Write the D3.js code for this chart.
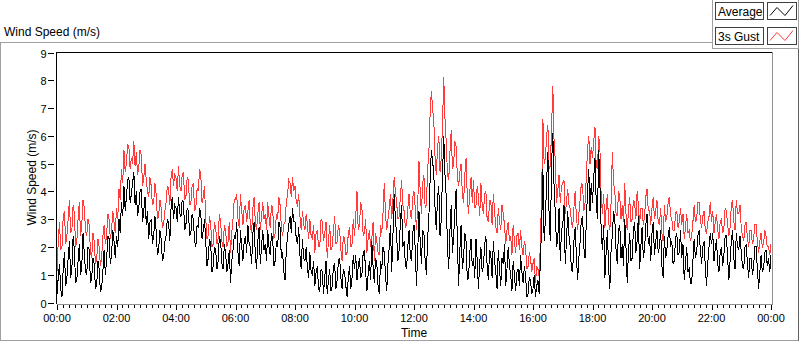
<!DOCTYPE html>
<html><head><meta charset="utf-8">
<script src="https://cdn.jsdelivr.net/npm/d3@7"></script>
<style>body{margin:0;background:#fff} svg{display:block} text{font-family:"Liberation Sans",Arial,sans-serif}</style>
</head><body>
<svg id="c" width="800" height="342"></svg>
<script>
// 2.5-minute samples over one day (m/s), one row per hour
const average = [
0.3,0.9,1.4,0.5,0.2,1.2,1.8,0.6,0.9,1.6,2.2,0.9,1.2,2.4,1.9,0.7,0.8,1.5,2.1,1.0,1.3,2.5,1.8,1.1,
1.0,2.0,1.9,0.7,0.9,1.6,1.4,0.5,0.6,1.5,1.2,0.4,0.5,1.1,1.9,1.0,1.5,2.4,2.3,1.4,1.7,2.6,2.2,1.6,
2.4,2.0,3.0,2.5,3.6,3.1,4.2,3.3,3.8,4.4,4.5,3.6,3.9,4.3,4.7,3.5,4.0,3.1,3.4,4.0,4.1,2.9,3.3,3.8,
2.8,3.3,2.3,2.9,3.0,2.1,2.4,3.1,2.6,1.7,1.9,2.6,2.3,1.5,1.6,2.2,2.4,3.0,2.9,2.2,3.4,3.8,3.0,3.5,
3.4,2.9,3.8,3.2,3.1,3.7,3.6,2.6,2.8,3.4,3.3,2.4,2.5,3.2,3.0,2.2,2.0,2.8,2.7,3.4,3.2,2.3,2.6,3.0,
2.2,1.3,1.6,2.3,2.1,1.1,1.3,2.0,1.9,1.2,1.5,2.4,2.2,1.4,1.2,2.1,1.8,1.1,1.4,1.9,0.7,1.5,1.9,2.4,
2.3,2.9,1.8,1.3,2.6,2.0,1.5,2.2,2.4,1.8,2.8,2.1,2.0,1.4,2.5,2.9,1.7,1.2,2.2,2.7,1.4,2.0,2.6,1.9,
2.1,1.5,2.6,2.0,1.7,2.5,2.3,1.3,1.5,2.2,2.0,2.9,2.7,1.6,1.8,1.1,0.8,1.9,2.4,2.8,3.1,2.5,3.4,2.9,
2.9,2.3,2.1,2.7,1.7,1.2,2.3,1.6,1.5,2.0,1.2,0.9,1.8,1.1,1.0,1.5,0.6,1.1,1.3,0.5,0.4,1.2,1.1,0.3,
0.9,1.5,0.3,0.8,1.2,0.4,0.6,1.3,1.4,0.5,0.8,1.5,1.6,0.9,0.5,1.2,1.1,0.6,0.2,0.9,1.3,0.5,0.9,1.7,
1.2,1.7,0.8,1.3,1.6,0.9,1.0,1.8,1.9,1.1,0.4,1.0,1.5,0.8,2.2,1.3,0.7,1.6,1.4,0.6,0.3,1.5,1.2,2.0,
1.8,1.0,0.4,1.4,2.0,2.8,1.1,2.4,3.9,3.0,2.4,1.5,1.9,2.9,3.5,2.0,2.2,1.4,1.2,2.0,2.6,1.7,1.5,2.5,
2.8,1.9,0.6,1.8,3.3,2.2,1.4,2.6,2.5,1.5,1.0,2.3,3.1,4.4,5.5,5.1,4.6,3.4,2.6,3.8,4.2,2.4,3.0,4.6,
6.0,4.6,3.8,2.0,1.2,2.6,3.5,1.8,2.4,3.3,4.1,2.2,0.6,1.9,2.8,1.2,1.6,2.5,2.2,0.8,0.9,1.8,2.3,1.3,
1.6,0.9,2.3,1.5,0.5,1.4,2.0,1.1,1.3,2.1,2.4,1.3,0.8,1.9,1.7,0.9,2.2,1.5,1.1,0.5,1.9,1.2,0.6,1.6,
1.4,2.1,0.6,1.2,2.0,1.3,1.0,0.4,1.5,1.0,0.4,1.1,1.2,0.6,1.7,1.1,0.7,1.3,1.0,0.2,0.3,0.9,0.8,0.3,
0.5,1.0,0.2,0.6,0.8,0.3,1.6,2.8,4.8,2.2,3.0,4.4,5.4,3.1,2.2,5.0,6.1,4.2,3.2,2.0,2.3,3.4,1.5,2.6,
2.8,3.5,1.4,2.2,3.3,2.4,2.0,1.2,1.1,2.2,2.7,1.7,0.8,1.6,2.2,3.0,3.1,2.0,1.6,2.9,4.0,4.8,3.3,4.3,
3.6,4.5,5.2,3.6,3.0,5.5,4.2,2.6,1.9,2.8,0.9,1.8,2.6,1.2,0.5,1.9,2.4,3.3,3.0,1.9,1.4,2.6,2.8,1.6,
2.1,1.3,3.0,2.0,0.7,1.8,2.5,1.5,1.6,2.6,2.9,1.8,2.2,3.1,1.2,2.0,2.7,1.6,1.9,2.8,3.2,2.1,2.4,1.5,
2.5,2.9,1.7,2.2,2.6,1.8,2.0,2.6,1.3,0.9,2.4,1.6,1.9,2.4,2.7,2.0,2.2,1.4,1.5,2.3,2.5,1.7,1.8,2.6,
1.6,2.1,0.8,1.4,2.0,1.1,1.2,0.7,0.7,1.5,2.3,1.6,1.8,2.4,2.6,1.9,1.4,2.0,2.2,1.3,0.6,1.4,2.0,2.5,
2.1,2.5,1.5,1.9,2.3,1.4,1.1,1.8,2.0,1.3,1.7,2.4,2.4,1.6,0.8,1.5,2.2,2.6,1.6,1.2,2.5,2.0,1.9,2.4,
1.8,1.3,1.2,2.0,2.1,1.4,0.9,1.6,1.6,1.0,1.3,2.0,2.0,1.2,0.5,1.1,1.7,1.1,1.2,1.8,1.9,1.3,1.6,1.1,
1.7];
const gust = [
1.1,2.2,2.9,1.9,2.0,3.1,3.3,2.1,2.4,3.0,3.7,2.5,2.6,3.5,3.2,2.0,2.2,3.0,3.6,2.4,2.8,3.7,3.4,2.6,
2.4,3.0,2.8,1.8,1.6,2.5,2.2,1.4,1.5,2.3,2.0,1.3,1.6,2.4,2.8,2.1,2.4,3.2,3.0,2.3,2.6,3.3,2.9,2.5,
3.4,3.0,4.1,3.7,4.8,4.3,5.5,4.7,5.0,5.7,5.6,4.8,5.2,5.0,5.8,4.9,5.4,4.6,4.9,5.5,5.3,4.2,4.5,5.0,
4.4,4.0,3.8,4.5,4.2,3.5,3.6,4.3,3.9,3.0,3.1,3.7,3.4,2.7,2.8,3.3,3.6,4.2,4.1,3.5,4.5,4.8,4.2,4.6,
4.5,4.0,4.9,4.2,4.0,4.6,4.7,3.7,3.8,4.5,4.4,3.5,3.6,4.2,4.3,3.3,3.4,4.1,4.0,4.8,4.6,3.6,3.8,4.2,
3.0,2.3,2.4,3.1,2.8,2.0,2.1,2.9,2.7,2.1,2.3,3.2,2.9,2.2,2.0,2.8,2.6,2.0,2.2,2.9,1.8,2.5,3.0,3.7,
3.7,3.9,3.0,2.7,3.9,3.3,2.8,3.4,3.5,2.9,3.3,3.7,2.7,2.5,3.4,3.8,2.9,2.6,3.2,3.6,2.6,3.1,3.6,3.0,
3.2,2.6,3.6,3.1,2.7,3.5,3.4,2.3,2.5,3.2,3.0,3.8,3.5,2.7,2.4,2.8,2.9,3.6,3.9,4.4,4.3,3.8,4.5,4.0,
4.2,3.6,3.5,3.9,3.1,2.6,3.3,2.8,2.6,3.2,2.8,2.3,3.0,2.4,2.3,2.8,1.8,2.5,2.6,2.0,2.0,3.0,2.9,2.2,
2.5,2.9,1.6,2.2,2.8,1.9,2.0,2.6,3.1,2.1,2.2,2.8,2.6,1.9,1.5,2.4,2.3,1.7,1.8,2.5,2.7,2.0,2.1,3.0,
2.4,3.1,4.0,2.6,2.8,3.6,3.4,2.4,2.5,3.0,1.8,2.3,2.6,2.0,2.3,2.9,1.5,2.5,2.2,1.8,1.7,2.8,2.5,3.2,
4.3,3.2,2.6,3.0,3.4,3.9,3.0,3.7,4.5,4.0,3.6,3.0,3.1,3.8,4.4,3.5,3.3,2.7,2.8,3.4,3.9,3.2,3.0,3.8,
4.0,3.4,2.6,3.5,5.1,4.0,3.2,4.3,4.6,3.4,3.5,4.8,5.4,6.8,7.6,7.0,6.5,5.2,4.6,5.6,6.0,4.7,5.2,6.4,
8.1,6.6,5.8,4.6,4.4,5.4,6.2,4.8,5.0,5.8,5.6,4.5,4.2,4.7,5.0,3.9,3.6,4.6,5.2,3.8,3.2,4.0,4.5,3.6,
4.4,3.4,3.5,4.2,3.8,3.1,4.3,3.5,3.2,3.9,4.0,3.0,2.9,3.7,3.6,2.8,3.9,3.3,2.7,2.5,3.4,2.9,2.6,3.5,
3.2,2.8,2.1,2.6,2.9,2.2,2.4,1.7,2.8,2.2,1.8,2.4,2.5,1.9,2.6,2.0,1.7,2.2,2.0,1.2,1.3,1.8,1.6,1.1,
1.4,1.6,0.7,1.3,1.2,0.9,2.2,4.0,6.6,5.0,5.2,6.0,6.4,4.8,4.9,6.3,7.8,5.8,5.1,3.6,4.0,4.6,3.6,4.2,
4.3,4.4,3.2,3.6,4.1,3.5,3.4,2.9,2.7,3.4,4.0,3.1,2.6,3.2,3.7,4.3,4.2,3.3,3.6,4.5,5.5,6.0,5.0,5.6,
5.2,5.8,6.3,4.9,4.8,6.0,5.5,3.8,3.2,3.9,2.7,3.4,3.9,2.9,2.6,3.6,5.4,4.3,4.0,3.2,3.1,4.0,3.8,3.0,
3.5,2.9,4.3,3.2,2.6,3.3,3.8,2.9,3.0,3.7,3.6,3.0,4.0,3.5,2.8,3.4,3.4,2.8,3.1,3.8,4.1,3.3,3.3,2.8,
3.4,3.8,3.0,3.3,3.7,2.9,2.8,3.4,2.5,2.2,3.5,2.9,3.1,3.6,3.8,3.1,3.0,2.6,2.6,3.2,3.3,2.7,2.9,3.4,
2.8,3.2,2.3,2.7,3.2,2.5,2.6,2.2,2.4,2.9,3.5,2.9,3.0,3.6,3.6,3.0,2.7,3.1,3.3,2.6,2.5,2.9,3.1,3.6,
2.9,3.3,2.5,2.9,3.2,2.6,2.3,2.9,3.0,2.5,2.7,3.4,3.3,2.8,2.4,2.7,3.5,3.7,2.9,2.6,3.7,3.2,3.2,3.5,
2.7,2.4,2.2,2.8,2.9,2.3,2.0,2.6,2.6,2.1,2.3,2.8,2.8,2.2,1.8,2.2,2.5,2.0,2.1,2.6,2.4,2.0,2.0,1.7,
2.1];
const sampleMinutes = 2.5;
const xTickLabels = ["00:00","02:00","04:00","06:00","08:00","10:00","12:00","14:00","16:00","18:00","20:00","22:00","00:00"];
const yTickValues = [0,1,2,3,4,5,6,7,8,9];
const seriesNames = ["Average","3s Gust"];
const seriesColors = ["#000000","#ff3b3b"];
const chartTitle = "Wind Speed (m/s)";
const yTitle = "Wind Speed (m/s)";
const xTitle = "Time";

const svg = d3.select("#c");
const L = 57, R = 771, T = 52.5, B = 302.5;
const x = d3.scaleLinear().domain([0, 1440]).range([L, R]);
const y = d3.scaleLinear().domain([0, 9]).range([B, T]);

// outer panel frame
const g0 = svg.append("g").attr("shape-rendering","crispEdges");
g0.append("line").attr("x1",0).attr("x2",712).attr("y1",42.5).attr("y2",42.5).attr("stroke","#a0a0a0");
g0.append("line").attr("x1",0.5).attr("x2",0.5).attr("y1",42).attr("y2",341).attr("stroke","#a0a0a0");
g0.append("line").attr("x1",0).attr("x2",799).attr("y1",340.5).attr("y2",340.5).attr("stroke","#a0a0a0");
g0.append("line").attr("x1",798.5).attr("x2",798.5).attr("y1",0).attr("y2",341).attr("stroke","#606060");

svg.append("text").attr("x",4).attr("y",36).attr("font-size",12).attr("fill","#000").text(chartTitle);

// legend
const lg = svg.append("g").attr("shape-rendering","crispEdges");
lg.append("rect").attr("x",712.5).attr("y",-1).attr("width",86).attr("height",49.5).attr("fill","#fff").attr("stroke","#a0a0a0");
seriesNames.forEach((n,i)=>{
  const oy = 2.5 + i*25;
  lg.append("rect").attr("x",715.5).attr("y",oy).attr("width",48).attr("height",17).attr("fill","#fff").attr("stroke","#404040");
  lg.append("text").attr("x",718).attr("y",oy+13).attr("font-size",12).attr("fill","#000").text(n);
  lg.append("rect").attr("x",767.5).attr("y",oy).attr("width",29).attr("height",17).attr("fill","#fff").attr("stroke","#404040");
  lg.append("polyline").attr("points",[[770,oy+13],[777,oy+5],[785,oy+13],[793,oy+3]].map(p=>p.join(",")).join(" "))
    .attr("fill","none").attr("stroke",seriesColors[i]).attr("stroke-width",1).attr("shape-rendering","auto");
});

// clip
svg.append("clipPath").attr("id","clip").append("rect").attr("x",L).attr("y",T-1).attr("width",R-L+1).attr("height",B-T+2);

// data lines
const line = d3.line().x((d,i)=>x(i*sampleMinutes)).y(d=>y(d));
const lines = svg.append("g").attr("clip-path","url(#clip)");
lines.append("path").datum(gust).attr("d",line).attr("fill","none").attr("stroke",seriesColors[1]).attr("stroke-width",1).attr("shape-rendering","crispEdges");
lines.append("path").datum(average).attr("d",line).attr("fill","none").attr("stroke",seriesColors[0]).attr("stroke-width",1).attr("shape-rendering","crispEdges");

// plot frame
const fr = svg.append("g").attr("shape-rendering","crispEdges");
fr.append("line").attr("x1",L-0.5).attr("x2",R+1.5).attr("y1",T-0.5).attr("y2",T-0.5).attr("stroke","#000");
fr.append("line").attr("x1",L-0.5).attr("x2",L-0.5).attr("y1",T-0.5).attr("y2",B+1.5).attr("stroke","#000");
fr.append("line").attr("x1",R+1.5).attr("x2",R+1.5).attr("y1",T-0.5).attr("y2",B+1.5).attr("stroke","#909090");
fr.append("line").attr("x1",L-0.5).attr("x2",R+1.5).attr("y1",B+1.5).attr("y2",B+1.5).attr("stroke","#909090");

// y axis
const ya = svg.append("g");
yTickValues.forEach(v=>{
  const yy = Math.round(y(v))+0.5;
  ya.append("line").attr("x1",48).attr("x2",54).attr("y1",yy).attr("y2",yy).attr("stroke","#000").attr("shape-rendering","crispEdges");
  ya.append("text").attr("x",46.5).attr("y",yy+4).attr("text-anchor","end").attr("font-size",11).attr("fill","#000").text(v);
});
svg.append("text").attr("transform",`translate(36,${(T+B)/2}) rotate(-90)`).attr("text-anchor","middle").attr("font-size",12).attr("fill","#000").text(yTitle);

// x axis
const xa = svg.append("g").attr("shape-rendering","crispEdges");
d3.range(0,1441,12).forEach(m=>{
  const xx = Math.round(x(m))+0.5;
  const major = m % 120 === 0;
  xa.append("line").attr("x1",xx).attr("x2",xx).attr("y1",B+2).attr("y2",B+(major?7:5)).attr("stroke","#000");
});
xTickLabels.forEach((t,i)=>{
  svg.append("text").attr("x",x(i*120)).attr("y",322).attr("text-anchor","middle").attr("font-size",11).attr("fill","#000").text(t);
});
svg.append("text").attr("x",(L+R)/2).attr("y",337).attr("text-anchor","middle").attr("font-size",12).attr("fill","#000").text(xTitle);
</script>
</body></html>
